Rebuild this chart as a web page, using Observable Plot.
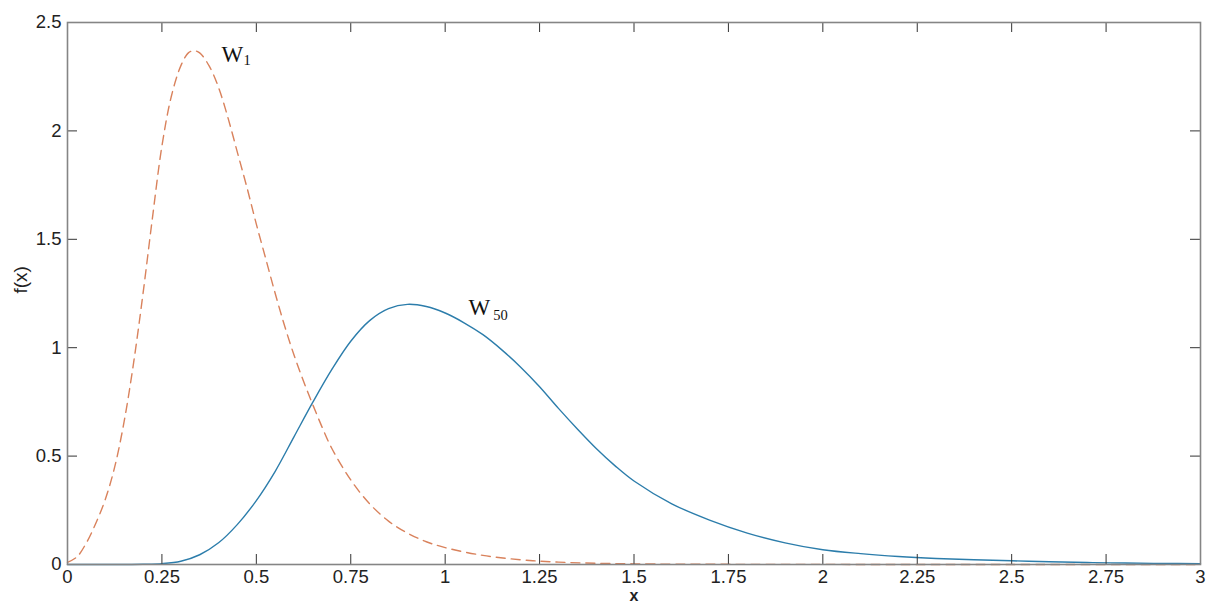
<!DOCTYPE html>
<html>
<head>
<meta charset="utf-8">
<script src="https://cdn.jsdelivr.net/npm/d3@7"></script>
<script src="https://cdn.jsdelivr.net/npm/@observablehq/plot@0.6"></script>
<style>
  html, body { margin: 0; padding: 0; background: #ffffff; }
  #chart svg { display: block; }
</style>
</head>
<body>
<div id="chart"></div>
<script>
// ---- data ----
const w1X = [0, 0.025, 0.05, 0.075, 0.1, 0.125, 0.15, 0.175, 0.2, 0.225, 0.25, 0.275, 0.3, 0.32, 0.335, 0.35, 0.375, 0.4, 0.425, 0.45, 0.475, 0.5, 0.525, 0.55, 0.575, 0.6, 0.625, 0.65, 0.675, 0.7, 0.75, 0.8, 0.85, 0.9, 0.95, 1.0, 1.1, 1.2, 1.3, 1.5, 2.0, 2.5, 3.0];
const w1Y = [0.01, 0.035, 0.1, 0.19, 0.3, 0.45, 0.66, 0.93, 1.25, 1.6, 1.93, 2.16, 2.30, 2.36, 2.37, 2.36, 2.30, 2.20, 2.06, 1.90, 1.74, 1.57, 1.41, 1.25, 1.10, 0.965, 0.845, 0.735, 0.63, 0.535, 0.39, 0.28, 0.2, 0.145, 0.105, 0.078, 0.042, 0.022, 0.011, 0.003, 0.0005, 0, 0];

const w50X = [0, 0.1, 0.2, 0.25, 0.3, 0.35, 0.4, 0.45, 0.5, 0.55, 0.6, 0.65, 0.7, 0.75, 0.8, 0.85, 0.9, 0.95, 1.0, 1.05, 1.1, 1.15, 1.2, 1.25, 1.3, 1.35, 1.4, 1.45, 1.5, 1.6, 1.7, 1.8, 1.9, 2.0, 2.1, 2.2, 2.3, 2.4, 2.5, 2.6, 2.7, 2.8, 2.9, 3.0];
const w50Y = [0, 0, 0.001, 0.004, 0.015, 0.045, 0.1, 0.185, 0.295, 0.43, 0.59, 0.75, 0.9, 1.03, 1.125, 1.18, 1.2, 1.19, 1.16, 1.115, 1.06, 0.99, 0.91, 0.82, 0.72, 0.625, 0.535, 0.455, 0.385, 0.28, 0.205, 0.145, 0.1, 0.068, 0.05, 0.037, 0.028, 0.022, 0.017, 0.013, 0.009, 0.007, 0.005, 0.004];

const xTicks = [0, 0.25, 0.5, 0.75, 1, 1.25, 1.5, 1.75, 2, 2.25, 2.5, 2.75, 3];
const yTicks = [0, 0.5, 1, 1.5, 2, 2.5];

const seriesNames = ["W", "W"];
const seriesSubs = ["1", "50"];
const labelX = [0.408, 1.062];
const labelY = [2.316, 1.149];
const subX = [0.466, 1.127];
const subY = [2.303, 1.13];

// ---- build tables ----
const w1 = w1X.map((x, i) => ({x, y: w1Y[i]}));
const w50 = w50X.map((x, i) => ({x, y: w50Y[i]}));
const labels = seriesNames.map((t, i) => ({t, x: labelX[i], y: labelY[i]}));
const subs = seriesSubs.map((t, i) => ({t, x: subX[i], y: subY[i]}));

const W = 1208, H = 604;
const mL = 67, mR = 8, mT = 22, mB = 40;
const plotH = H - mT - mB;
const plotW = W - mL - mR;
const tick = 10;

const chart = Plot.plot({
  width: W,
  height: H,
  marginLeft: mL,
  marginRight: mR,
  marginTop: mT,
  marginBottom: mB,
  x: {domain: [0, 3]},
  y: {domain: [0, 2.5]},
  style: {fontFamily: "'Liberation Sans', Arial, Helvetica, sans-serif", fontSize: "18px", background: "#ffffff", color: "#222"},
  marks: [
    // data lines
    Plot.line(w1, {x: "x", y: "y", stroke: "#d9825c", strokeWidth: 1.4, strokeDasharray: "9,6", curve: "catmull-rom"}),
    Plot.line(w50, {x: "x", y: "y", stroke: "#2c7dab", strokeWidth: 1.4, curve: "catmull-rom"}),
    // inward ticks on all four sides
    Plot.tickX(xTicks, {x: d => d, stroke: "#333", strokeWidth: 1, insetTop: plotH - tick}),
    Plot.tickX(xTicks, {x: d => d, stroke: "#333", strokeWidth: 1, insetBottom: plotH - tick}),
    Plot.tickY(yTicks, {y: d => d, stroke: "#333", strokeWidth: 1, insetRight: plotW - tick}),
    Plot.tickY(yTicks, {y: d => d, stroke: "#333", strokeWidth: 1, insetLeft: plotW - tick}),
    // frame
    Plot.frame({stroke: "#858585", strokeWidth: 1.6}),
    // tick labels
    Plot.axisX({ticks: xTicks, tickSize: 0, tickPadding: 5, fontSize: 18.5, label: null, tickFormat: d3.format("")}),
    Plot.axisY({ticks: yTicks, tickSize: 0, tickPadding: 6, fontSize: 18.5, label: null, tickFormat: d3.format("")}),
    // axis titles
    Plot.text(["x"], {frameAnchor: "bottom", dy: 36, lineAnchor: "bottom", fontSize: 16, fontWeight: "bold", fill: "#222", text: d => d}),
    Plot.text(["f(x)"], {frameAnchor: "left", dx: -47, rotate: -90, fontSize: 19, fill: "#222", text: d => d}),
    // series labels
    Plot.text(labels, {x: "x", y: "y", text: "t", textAnchor: "start", lineAnchor: "bottom", fontSize: 23, fontFamily: "'Liberation Serif', 'DejaVu Serif', serif", fill: "#111"}),
    Plot.text(subs, {x: "x", y: "y", text: "t", textAnchor: "start", lineAnchor: "bottom", fontSize: 14.5, fontFamily: "'Liberation Serif', 'DejaVu Serif', serif", fill: "#111"})
  ]
});

document.getElementById("chart").appendChild(chart);
</script>
</body>
</html>
